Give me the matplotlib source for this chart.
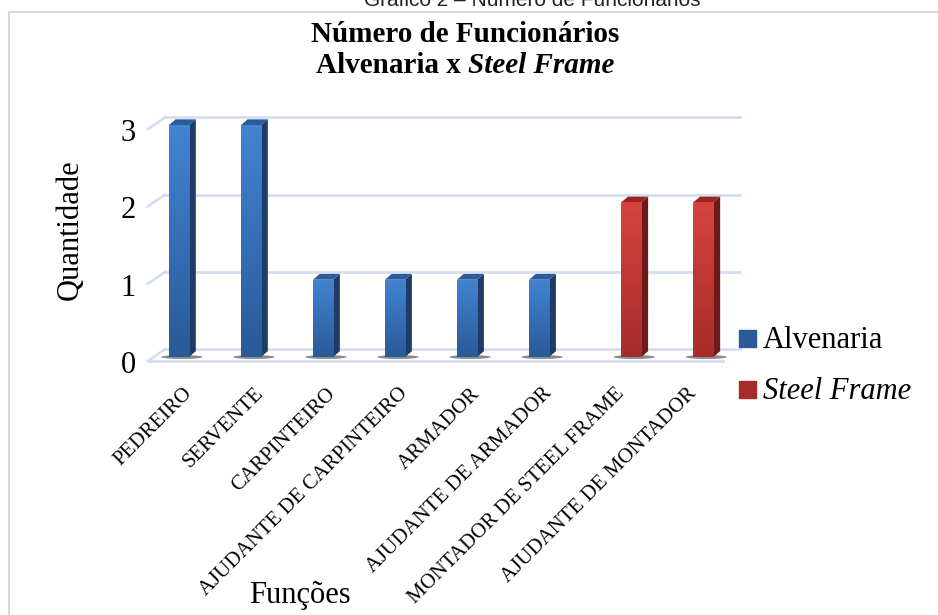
import numpy as np
import matplotlib.pyplot as plt
from matplotlib.colors import LinearSegmentedColormap
from matplotlib.patches import Polygon, Ellipse, Rectangle
from matplotlib.transforms import ScaledTranslation

# === Dados ===
funcoes = ["PEDREIRO", "SERVENTE", "CARPINTEIRO", "AJUDANTE DE CARPINTEIRO",
           "ARMADOR", "AJUDANTE DE ARMADOR", "MONTADOR DE STEEL FRAME",
           "AJUDANTE DE MONTADOR"]
alvenaria = [3, 3, 1, 1, 1, 1, 0, 0]
steel_frame = [0, 0, 0, 0, 0, 0, 2, 2]
y_ticks = [0, 1, 2, 3]

plt.rcParams['font.family'] = ['Liberation Serif', 'DejaVu Serif']

W, H = 938, 615
fig = plt.figure(figsize=(W / 100, H / 100), dpi=100)

def px_box(x0, y0, x1, y1):
    return [x0 / W, 1 - y1 / H, (x1 - x0) / W, (y1 - y0) / H]

ax = fig.add_axes(px_box(140, 100, 745, 370))
for s in ax.spines.values():
    s.set_visible(False)

# === Grade em perspectiva (parede do fundo) ===
grid_c = "#d3dff0"
for v in y_ticks:
    ax.plot([-0.57, -0.333], [v - 0.05, v + 0.1], color=grid_c, lw=2, zorder=1)
    ax.plot([-0.333, 7.65], [v + 0.1, v + 0.1], color=grid_c, lw=2, zorder=1)
ax.plot([-0.57, 7.42], [-0.05, -0.05], color=grid_c, lw=2, zorder=1)

# === Barras com efeito 3D ===
bw = 0.28
ddx, ddy = 0.095, 0.075
estilos = {
    "Alvenaria": dict(top="#4283d2", bot="#2a5a98", side="#1e3c66", cap="#2c5c9a"),
    "Steel Frame": dict(top="#d6443f", bot="#a62c2a", side="#6c1b1a", cap="#9a2624"),
}

def barra3d(x0, h, st):
    x1 = x0 + bw
    ax.add_patch(Ellipse((x0 + bw * 0.65, 0.0), bw + 0.3, 0.05, color="#3a3a3a",
                         alpha=0.6, lw=0, zorder=2))
    front = ax.bar([x0], [h], width=bw, align='edge', color=st["bot"], lw=0, zorder=3)[0]
    cmap = LinearSegmentedColormap.from_list("g", [st["bot"], st["top"]])
    grad = np.linspace(0, 1, 100).reshape(-1, 1)
    im = ax.imshow(grad, extent=[x0, x1, 0, h], origin='lower', cmap=cmap,
                   aspect='auto', zorder=3.1)
    im.set_clip_path(front)
    ax.add_patch(Polygon([(x1, 0), (x1, h), (x1 + ddx, h + ddy), (x1 + ddx, ddy)],
                         closed=True, color=st["side"], lw=0, zorder=3))
    ax.add_patch(Polygon([(x0, h), (x1, h), (x1 + ddx, h + ddy), (x0 + ddx, h + ddy)],
                         closed=True, color=st["cap"], lw=0, zorder=3))

for i in range(len(funcoes)):
    if alvenaria[i] > 0:
        barra3d(i - bw, alvenaria[i], estilos["Alvenaria"])
    if steel_frame[i] > 0:
        barra3d(i, steel_frame[i], estilos["Steel Frame"])

ax.set_xlim(-0.68, 7.72)
ax.set_ylim(-0.168, 3.325)

# === Eixos ===
ax.set_yticks(y_ticks)
ax.set_yticklabels([str(v) for v in y_ticks], fontsize=22)
ax.tick_params(axis='y', length=0, pad=3)
desloc = ScaledTranslation(0, -5 / 100, fig.dpi_scale_trans)
for lab in ax.get_yticklabels():
    lab.set_transform(lab.get_transform() + desloc)

ax.set_xticks(range(len(funcoes)))
ax.set_xticklabels(funcoes, rotation=45, ha='right', va='center',
                   rotation_mode='anchor', fontsize=15)
ax.tick_params(axis='x', length=0, pad=15)

fig.text(70 / W, 1 - 230 / H, "Quantidade", rotation=90, fontsize=22,
         ha='center', va='center')
fig.text(300 / W, 1 - 603 / H, "Funções", fontsize=22, ha='center', va='baseline')

# === Titulo ===
fig.text(465 / W, 1 - 42 / H, "Número de Funcionários", fontsize=21,
         fontweight='bold', ha='center', va='baseline')
t1 = fig.text(0, 0, "Alvenaria x ", fontsize=21, fontweight='bold', va='baseline')
t2 = fig.text(0, 0, "Steel Frame", fontsize=21, fontweight='bold', style='italic',
              va='baseline')
fig.canvas.draw()
r = fig.canvas.get_renderer()
w1 = t1.get_window_extent(r).width
w2 = t2.get_window_extent(r).width
x_ini = 465 - (w1 + w2) / 2
t1.set_position((x_ini / W, 1 - 73 / H))
t2.set_position(((x_ini + w1) / W, 1 - 73 / H))

# texto cortado do topo
fig.text(532 / W, 1 - 6 / H, "Gráfico 2 – Número de Funcionários",
         fontsize=15, family=['Liberation Sans', 'DejaVu Sans'],
         ha='center', va='baseline', color="#222222")

# === Legenda ===
leg = [("Alvenaria", "normal", 348, estilos["Alvenaria"]),
       ("Steel Frame", "italic", 399, estilos["Steel Frame"])]
for nome, estilo, base, st in leg:
    fig.patches.append(Rectangle((739 / W, 1 - (base - 1) / H), 17 / W, 17 / H,
                                 transform=fig.transFigure, color=st["bot"]))
    fig.text(763 / W, 1 - base / H, nome, fontsize=22, style=estilo, va='baseline')

# moldura
fig.patches.append(Rectangle((9 / W, -0.05), 1.0, 1 - 12 / H + 0.05,
                             transform=fig.transFigure, fill=False,
                             edgecolor="#c5d3e6", lw=1.2))

fig.savefig("out.png", dpi=100)
